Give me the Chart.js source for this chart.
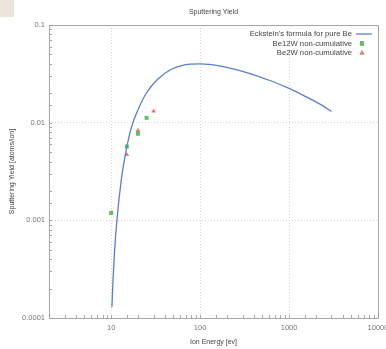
<!DOCTYPE html>
<html>
<head>
<meta charset="utf-8">
<script src="https://cdn.jsdelivr.net/npm/chart.js@4.4.1/dist/chart.umd.min.js"></script>
<style>
  body { margin: 0; background: #fff; }
  #wrap { position: relative; width: 386px; height: 349px; }
  #corner { position: absolute; left: 0; top: 0; width: 14px; height: 17px; background: #ece5dc; }
</style>
</head>
<body>
<div id="wrap">
  <canvas id="yieldChart" width="386" height="349"></canvas>
  <div id="corner"></div>
</div>
<script>
// Eckstein's formula curve
const curveEnergy = [10.2, 10.5, 10.9, 11.6, 13, 14.8, 16.8, 20, 24.8, 33.5, 47, 67, 100, 170, 320, 630, 1000, 1500, 2300, 3000];
const curveYield = [0.00013, 0.00025, 0.00047, 0.001, 0.0026, 0.0053, 0.0088, 0.0135, 0.020, 0.028, 0.035, 0.039, 0.040, 0.038, 0.033, 0.0267, 0.0224, 0.0187, 0.0152, 0.0130];

// measured points
const be12wEnergy = [10, 15, 20, 25];
const be12wYield = [0.00119, 0.0057, 0.0077, 0.0112];
const be2wEnergy = [10, 15, 20, 30];
const be2wYield = [0.00119, 0.0047, 0.0083, 0.0131];

const seriesNames = ["Eckstein's formula for pure Be", 'Be12W non-cumulative', 'Be2W non-cumulative'];
const xTickLabels = ['10', '100', '1000', '10000'];
const yTickLabels = ['0.0001', '0.001', '0.01', '0.1'];

const toPoints = (xs, ys) => xs.map((x, i) => ({ x: x, y: ys[i] }));
const decade = v => {
  const l = Math.log10(v);
  const r = Math.round(l);
  return Math.abs(l - r) < 1e-9 ? r : null;
};

Chart.defaults.font.family = "'Liberation Sans', Arial, sans-serif";
Chart.defaults.font.size = 7.5;
Chart.defaults.color = '#777';

const frameAndTicks = {
  id: 'frameAndTicks',
  beforeDatasetsDraw(chart) {
    const { ctx, chartArea: a } = chart;
    const xs = chart.scales.x, ys = chart.scales.y;
    ctx.save();
    ctx.strokeStyle = '#a8a8a8';
    ctx.lineWidth = 1;
    ctx.beginPath();
    xs.ticks.forEach(t => {
      const px = Math.round(xs.getPixelForValue(t.value)) + 0.5;
      ctx.moveTo(px, a.bottom);
      ctx.lineTo(px, a.bottom - 3);
    });
    ys.ticks.forEach(t => {
      const py = Math.round(ys.getPixelForValue(t.value)) + 0.5;
      ctx.moveTo(a.left, py);
      ctx.lineTo(a.left + 3, py);
    });
    ctx.stroke();
    ctx.strokeRect(Math.round(a.left) + 0.5, Math.round(a.top) + 0.5, Math.round(a.width), Math.round(a.height));
    ctx.restore();
  }
};

const sideLegend = {
  id: 'sideLegend',
  afterDraw(chart) {
    const { ctx } = chart;
    const rows = [34, 43.5, 53];
    ctx.save();
    ctx.font = "7.7px 'Liberation Sans', Arial, sans-serif";
    ctx.fillStyle = '#444';
    ctx.textAlign = 'right';
    ctx.textBaseline = 'middle';
    chart.data.datasets.forEach((ds, i) => {
      ctx.fillText(ds.label, 352, rows[i]);
    });
    ctx.strokeStyle = chart.data.datasets[0].borderColor;
    ctx.lineWidth = 1.3;
    ctx.beginPath();
    ctx.moveTo(356, rows[0]);
    ctx.lineTo(372, rows[0]);
    ctx.stroke();
    [1, 2].forEach(i => {
      const ds = chart.data.datasets[i];
      Chart.helpers.drawPoint(ctx, { pointStyle: ds.pointStyle, radius: ds.pointRadius, borderWidth: 0 }, 362, rows[i]);
      ctx.fillStyle = ds.backgroundColor;
      ctx.fill();
    });
    ctx.restore();
  }
};

new Chart(document.getElementById('yieldChart'), {
  type: 'line',
  data: {
    datasets: [
      {
        label: seriesNames[0],
        data: toPoints(curveEnergy, curveYield),
        borderColor: '#5a7fc8',
        borderWidth: 1.3,
        pointRadius: 0,
        cubicInterpolationMode: 'monotone',
        fill: false
      },
      {
        label: seriesNames[1],
        data: toPoints(be12wEnergy, be12wYield),
        showLine: false,
        pointStyle: 'rect',
        pointRadius: 2.8,
        backgroundColor: '#5cc25c',
        borderColor: '#5cc25c',
        borderWidth: 0
      },
      {
        label: seriesNames[2],
        data: toPoints(be2wEnergy, be2wYield),
        showLine: false,
        pointStyle: 'triangle',
        pointRadius: 2.8,
        backgroundColor: '#f2766c',
        borderColor: '#f2766c',
        borderWidth: 0
      }
    ]
  },
  options: {
    responsive: false,
    animation: false,
    layout: { padding: { left: 0, right: 8, top: 0, bottom: 0 } },
    plugins: {
      legend: { display: false },
      tooltip: { enabled: false },
      title: {
        display: true,
        text: 'Sputtering Yield',
        color: '#444',
        font: { size: 7, weight: 'normal' },
        padding: { top: 8, bottom: 8.6 },
        fullSize: false
      }
    },
    scales: {
      x: {
        type: 'logarithmic',
        min: 2,
        max: 10000,
        border: { display: false, dash: [1, 2] },
        grid: {
          drawTicks: false,
          color: c => decade(c.tick.value) !== null ? '#d4d4d4' : 'transparent'
        },
        ticks: {
          autoSkip: false,
          maxRotation: 0,
          padding: 5,
          color: '#777',
          callback: v => {
            const d = decade(v);
            return d !== null && d >= 1 ? xTickLabels[d - 1] : '';
          }
        },
        title: { display: true, text: 'Ion Energy [ev]', color: '#444', font: { size: 7 }, padding: { top: 0, bottom: 3 } },
        afterFit: s => { s.height = 31; s.paddingLeft = 0; s.paddingRight = 0; }
      },
      y: {
        type: 'logarithmic',
        min: 0.0001,
        max: 0.1,
        border: { display: false, dash: [1, 2] },
        grid: {
          drawTicks: false,
          color: c => decade(c.tick.value) !== null ? '#d4d4d4' : 'transparent'
        },
        ticks: {
          autoSkip: false,
          padding: 4,
          color: '#777',
          callback: v => {
            const d = decade(v);
            return d !== null ? yTickLabels[d + 4] : '';
          }
        },
        title: { display: true, text: 'Sputtering Yield [atoms/ion]', color: '#444', font: { size: 7 }, padding: { top: 8, bottom: 0 } },
        afterFit: s => { s.width = 49; s.paddingTop = 0; s.paddingBottom = 0; }
      }
    }
  },
  plugins: [frameAndTicks, sideLegend]
});
</script>
</body>
</html>
